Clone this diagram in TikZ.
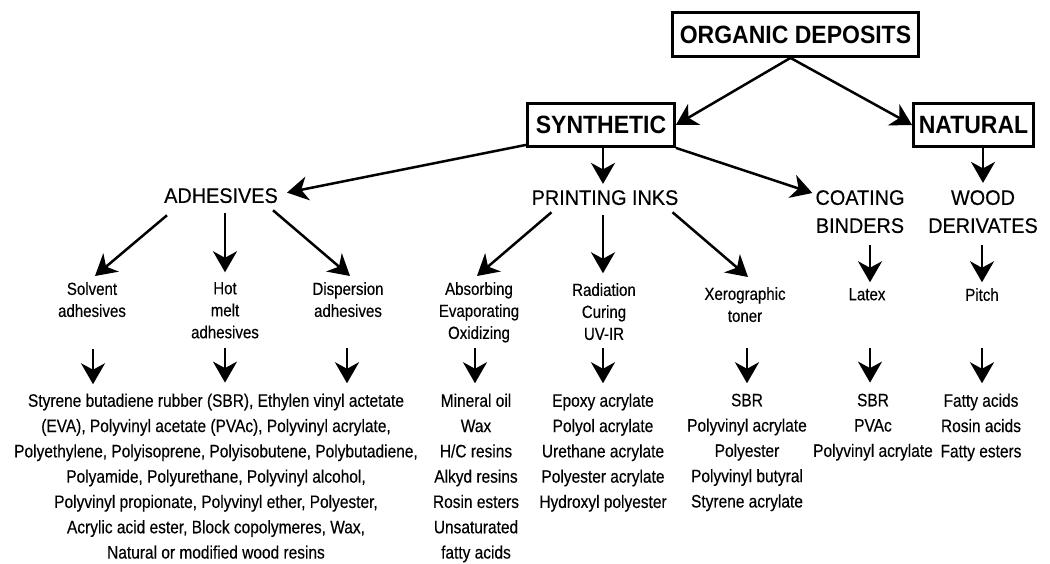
\documentclass[tikz,border=0pt]{standalone}
\usepackage{fontspec}
\setmainfont{Liberation Sans}
\newfontfamily\boxfont[FakeStretch=0.92]{Liberation Sans Bold}
\newfontfamily\capfont[FakeStretch=0.945,FakeBold=0.3]{Liberation Sans}
\newfontfamily\smallfont[FakeStretch=0.86,FakeBold=0.3]{Liberation Sans}
\newfontfamily\listfont[FakeStretch=0.86,FakeBold=0.3]{Liberation Sans}
\usetikzlibrary{arrows.meta,calc}
\begin{document}
\begin{tikzpicture}[x=1pt,y=-1pt,
  boxnode/.style={draw,line width=2.8pt,inner sep=0pt,font=\boxfont\fontsize{25}{30}\selectfont},
  catnode/.style={inner sep=0pt,anchor=north,align=center,font=\capfont\fontsize{21}{28}\selectfont},
  subnode/.style={inner sep=0pt,anchor=north,align=center,font=\smallfont\fontsize{17.5}{22}\selectfont},
  listnode/.style={inner sep=0pt,anchor=north,align=center,font=\listfont\fontsize{18}{25.3}\selectfont},
  arr/.style={line width=2.5pt,-{Stealth[length=21pt,width=24pt,inset=6.5pt]}}]
\fill[white] (0,0) rectangle (1050,563);
\useasboundingbox (0,0) rectangle (1050,563);

% boxes
\node[boxnode,minimum width=246pt,minimum height=44pt] (org) at (795.5,34.5) {ORGANIC DEPOSITS};
\node[boxnode,minimum width=147pt,minimum height=43pt] (syn) at (601,125) {SYNTHETIC};
\node[boxnode,minimum width=120pt,minimum height=43pt] (nat) at (973.5,125) {NATURAL};

% categories
\node[catnode] (adh) at (221,188) {ADHESIVES};
\node[catnode] (pri) at (605,190) {PRINTING INKS};
\node[catnode] (coa) at (860,190) {COATING\\BINDERS};
\node[catnode] (woo) at (983,190) {WOOD\\DERIVATES};

% sub categories
\node[subnode] (sol) at (92,282) {Solvent\\adhesives};
\node[subnode] (hot) at (225,282) {Hot\\melt\\adhesives};
\node[subnode] (dis) at (348,282) {Dispersion\\adhesives};
\node[subnode] (abs) at (479,282) {Absorbing\\Evaporating\\Oxidizing};
\node[subnode] (rad) at (604,283) {Radiation\\Curing\\UV-IR};
\node[subnode] (xer) at (745,287) {Xerographic\\toner};
\node[subnode] (lat) at (867,288) {Latex};
\node[subnode] (pit) at (982,288) {Pitch};

% lists
\node[listnode] (l1) at (216,393.5) {Styrene butadiene rubber (SBR), Ethylen vinyl actetate\\(EVA), Polyvinyl acetate (PVAc), Polyvinyl acrylate,\\Polyethylene, Polyisoprene, Polyisobutene, Polybutadiene,\\Polyamide, Polyurethane, Polyvinyl alcohol,\\Polyvinyl propionate, Polyvinyl ether, Polyester,\\Acrylic acid ester, Block copolymeres, Wax,\\Natural or modified wood resins};
\node[listnode] (l2) at (476,393.5) {Mineral oil\\Wax\\H/C resins\\Alkyd resins\\Rosin esters\\Unsaturated\\fatty acids};
\node[listnode] (l3) at (603,393.5) {Epoxy acrylate\\Polyol acrylate\\Urethane acrylate\\Polyester acrylate\\Hydroxyl polyester};
\node[listnode] (l4) at (747,393.5) {SBR\\Polyvinyl acrylate\\Polyester\\Polyvinyl butyral\\Styrene acrylate};
\node[listnode] (l5) at (873,393.5) {SBR\\PVAc\\Polyvinyl acrylate};
\node[listnode] (l6) at (981,393.5) {Fatty acids\\Rosin acids\\Fatty esters};

% level 1
\draw[arr] ($(org.south)+(-5,0)$) -- (syn.east);
\draw[arr] ($(org.south)+(-5,0)$) -- (nat.west);
% level 2
\draw[arr] ($(syn.south west)+(0,-3)$) -- ($(adh.east)+(9,-3)$);
\draw[arr] ($(syn.south)+(2,0)$) -- ++(0,36);
\draw[arr] (syn.south east) -- ($(coa.north west)+(-3,3)$);
\draw[arr] ($(nat.south)+(9.5,0)$) -- ++(0,35);
% level 3
\draw[arr] ($(adh.south west)+(3,12)$) -- ($(sol.north)+(3,-6)$);
\draw[arr] ($(adh.south)+(4,10)$) -- ++(0,59);
\draw[arr] ($(adh.south east)+(-5,7)$) -- ($(dis.north)+(2,-6)$);
\draw[arr] ($(pri.south west)+(20,7)$) -- ($(abs.north)+(-2,-6)$);
\draw[arr] ($(pri.south)+(-2,10)$) -- ++(0,58);
\draw[arr] ($(pri.south east)+(-6,7)$) -- ($(xer.north)+(3,-10)$);
\draw[arr] ($(coa.south)+(10,12)$) -- ++(0,37);
\draw[arr] ($(woo.south)+(-1,12)$) -- ++(0,37);
% level 4
\draw[arr] ($(sol.south)+(1,32)$) -- ++(0,35);
\draw[arr] ($(hot.south)+(0,9)$) -- ++(0,35);
\draw[arr] ($(dis.south)+(-1,31)$) -- ++(0,35);
\draw[arr] ($(abs.south)+(-4,5.5)$) -- ++(0,35);
\draw[arr] ($(rad.south)+(-1,8)$) -- ++(0,35);
\draw[arr] ($(xer.south)+(2,26)$) -- ++(0,35);
\draw[arr] ($(lat.south)+(3,47)$) -- ++(0,35);
\draw[arr] ($(pit.south)+(0,47)$) -- ++(0,35);
\end{tikzpicture}
\end{document}
